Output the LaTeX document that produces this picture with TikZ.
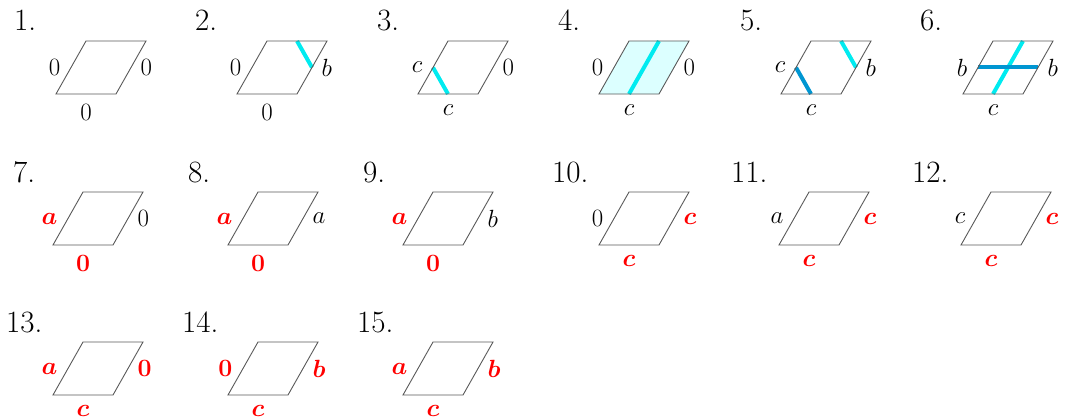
\documentclass[tikz,border=0pt]{standalone}
\usepackage{bm}
\definecolor{lineblue}{RGB}{0,150,210}
\definecolor{linecyan}{RGB}{0,235,240}
\definecolor{fillcyan}{RGB}{220,255,255}
\tikzset{
  edge/.style={draw=black!65, line width=0.9pt, line join=miter},
  cyanline/.style={draw=linecyan, line width=4pt},
  blueline/.style={draw=lineblue, line width=4pt},
  numlabel/.style={anchor=base west, inner sep=0pt, font=\fontsize{31}{31}\selectfont},
  lab/.style={inner sep=0pt, font=\fontsize{29.5}{29.5}\selectfont},
}
\newcommand\pgram[5]{%
  \coordinate (#1-tl) at (#2,#3);
  \coordinate (#1-tr) at (#2+60,#3);
  \coordinate (#1-br) at (#2+30,#3+53);
  \coordinate (#1-bl) at (#2-30,#3+53);
  \coordinate (#1-mt) at (#2+30,#3);
  \coordinate (#1-mb) at (#2,#3+53);
  \coordinate (#1-ml) at (#2-15,#3+26.5);
  \coordinate (#1-mr) at (#2+45,#3+26.5);
  \node[numlabel] (#1-n) at (#5,#3-10) {#4};
}
\newcommand\pshape[1]{\draw[edge] (#1-tl) -- (#1-tr) -- (#1-br) -- (#1-bl) -- cycle;}
\newcommand\plabels[4]{%
  \node[lab,anchor=east] (#1-L) at ([xshift=-10.5pt]#1-ml) {#2};
  \node[lab,anchor=west] (#1-R) at ([xshift=9.5pt]#1-mr) {#3};
  \node[lab,anchor=north] (#1-B) at ([yshift=-10.5pt]#1-mb) {#4};
}
\newcommand\Rd[1]{\textcolor{red}{$\bm{#1}$}}
\newcommand\Kb[1]{$#1$}
\begin{document}
\begin{tikzpicture}[x=1pt,y=-1pt]
\useasboundingbox (0,0) rectangle (1065,420);
% row 1
\pgram{p1}{86}{41}{1.}{14}
\pgram{p2}{267}{41}{2.}{195}
\pgram{p3}{448}{41}{3.}{377}
\pgram{p4}{629}{41}{4.}{558}
\pgram{p5}{811}{41}{5.}{740}
\pgram{p6}{993}{41}{6.}{920}
% row 2
\pgram{p7}{83}{192}{7.}{13}
\pgram{p8}{258}{192}{8.}{188}
\pgram{p9}{433}{192}{9.}{363}
\pgram{p10}{629}{192}{10.}{552}
\pgram{p11}{809}{192}{11.}{731}
\pgram{p12}{991}{192}{12.}{912}
% row 3
\pgram{p13}{83}{342}{13.}{6}
\pgram{p14}{258}{342}{14.}{182}
\pgram{p15}{433}{342}{15.}{357}
% fill of 4
\fill[fillcyan] (p4-tl) -- (p4-tr) -- (p4-br) -- (p4-bl) -- cycle;
% coloured lines
\draw[cyanline] (p2-mt) -- (p2-mr);
\draw[cyanline] (p3-ml) -- (p3-mb);
\draw[cyanline] (p4-mt) -- (p4-mb);
\draw[cyanline] (p5-mt) -- (p5-mr);
\draw[blueline] (p5-ml) -- (p5-mb);
\draw[cyanline] (p6-mt) -- (p6-mb);
\draw[blueline] (p6-ml) -- (p6-mr);
% outlines
\foreach \p in {p1,p2,p3,p4,p5,p6,p7,p8,p9,p10,p11,p12,p13,p14,p15}{\pshape{\p}}
% labels
\plabels{p1}{\Kb{0}}{\Kb{0}}{\Kb{0}}
\plabels{p2}{\Kb{0}}{\Kb{b}}{\Kb{0}}
\plabels{p3}{\Kb{c}}{\Kb{0}}{\Kb{c}}
\plabels{p4}{\Kb{0}}{\Kb{0}}{\Kb{c}}
\plabels{p5}{\Kb{c}}{\Kb{b}}{\Kb{c}}
\plabels{p6}{\Kb{b}}{\Kb{b}}{\Kb{c}}
\plabels{p7}{\Rd{a}}{\Kb{0}}{\Rd{0}}
\plabels{p8}{\Rd{a}}{\Kb{a}}{\Rd{0}}
\plabels{p9}{\Rd{a}}{\Kb{b}}{\Rd{0}}
\plabels{p10}{\Kb{0}}{\Rd{c}}{\Rd{c}}
\plabels{p11}{\Kb{a}}{\Rd{c}}{\Rd{c}}
\plabels{p12}{\Kb{c}}{\Rd{c}}{\Rd{c}}
\plabels{p13}{\Rd{a}}{\Rd{0}}{\Rd{c}}
\plabels{p14}{\Rd{0}}{\Rd{b}}{\Rd{c}}
\plabels{p15}{\Rd{a}}{\Rd{b}}{\Rd{c}}
\end{tikzpicture}
\end{document}
